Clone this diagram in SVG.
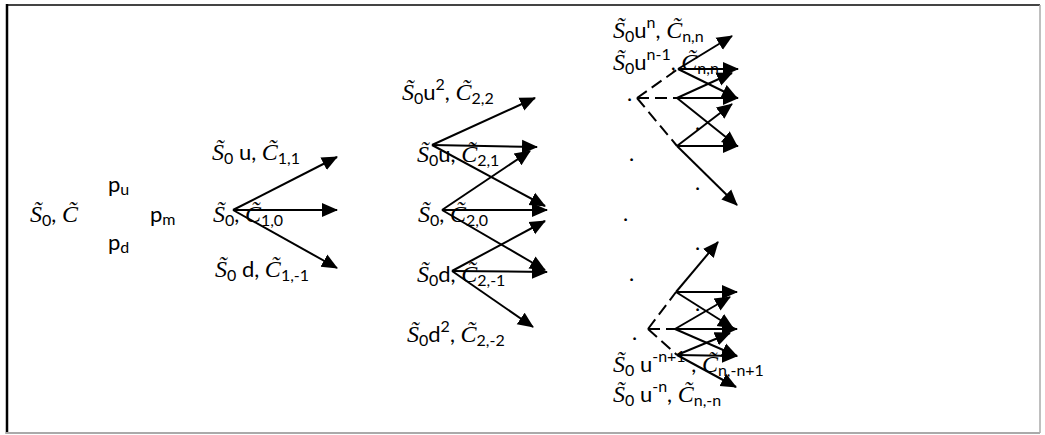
<svg xmlns="http://www.w3.org/2000/svg" width="1045" height="435" viewBox="0 0 1045 435">
<style>
.t{font-family:Lato,"Liberation Sans",sans-serif;font-size:22px;fill:#000}
.v{font-family:"Liberation Serif",serif;font-style:italic;font-size:24px}
.s{font-size:16px}
.c{stroke:#000;stroke-width:2;fill:none}
.a{marker-end:url(#ah)}
.d{stroke-dasharray:12 6}
</style>
<defs>
<marker id="ah" markerUnits="userSpaceOnUse" markerWidth="16" markerHeight="16" viewBox="0 0 16 16" refX="15" refY="8" orient="auto">
<path d="M0,1 L16,8 L0,15 Z" fill="#000"/>
</marker>
</defs>
<rect width="1045" height="435" fill="#fff"/>
<g id="frame">
<line x1="6" y1="5" x2="1040" y2="5" stroke="#444" stroke-width="2"/>
<line x1="7" y1="4" x2="7" y2="434" stroke="#000" stroke-width="2.5"/>
<line x1="6" y1="433" x2="1040" y2="433" stroke="#aaa" stroke-width="2"/>
<line x1="1040" y1="5" x2="1040" y2="433" stroke="#aaa" stroke-width="1.5"/>
</g>
<g id="connectors">
<g class="c a">
<line x1="233" y1="210" x2="337" y2="157"/>
<line x1="233" y1="210" x2="337" y2="210"/>
<line x1="233" y1="210" x2="337" y2="268"/>
<line x1="432" y1="145" x2="535" y2="98"/>
<line x1="432" y1="145" x2="537" y2="147"/>
<line x1="432" y1="145" x2="545" y2="206"/>
<line x1="442" y1="210" x2="530" y2="151"/>
<line x1="442" y1="210" x2="547" y2="210"/>
<line x1="442" y1="210" x2="545" y2="270"/>
<line x1="452" y1="271" x2="545" y2="221"/>
<line x1="452" y1="271" x2="547" y2="272"/>
<line x1="452" y1="271" x2="533" y2="327"/>
<line x1="678" y1="69" x2="732" y2="36"/>
<line x1="678" y1="69" x2="738" y2="69"/>
<line x1="678" y1="69" x2="737" y2="98"/>
<line x1="677" y1="98" x2="732" y2="73"/>
<line x1="677" y1="98" x2="738" y2="98"/>
<line x1="677" y1="98" x2="737" y2="146"/>
<line x1="677" y1="146" x2="732" y2="104"/>
<line x1="677" y1="146" x2="738" y2="146"/>
<line x1="677" y1="146" x2="737" y2="205"/>
<line x1="676" y1="292" x2="718" y2="242"/>
<line x1="676" y1="292" x2="737" y2="292"/>
<line x1="676" y1="292" x2="733" y2="328"/>
<line x1="675" y1="329" x2="730" y2="297"/>
<line x1="675" y1="329" x2="737" y2="329"/>
<line x1="675" y1="329" x2="737" y2="356"/>
<line x1="677" y1="355" x2="730" y2="333"/>
<line x1="677" y1="355" x2="737" y2="356"/>
<line x1="677" y1="355" x2="736" y2="387"/>
</g>
<g class="c d">
<line x1="637" y1="98" x2="678" y2="69"/>
<line x1="637" y1="98" x2="677" y2="98"/>
<line x1="637" y1="98" x2="677" y2="146"/>
<line x1="648" y1="329" x2="676" y2="292"/>
<line x1="648" y1="329" x2="675" y2="329"/>
<line x1="648" y1="329" x2="677" y2="355"/>
</g>
</g>
<g id="root"><text class="t" x="30" y="222"><tspan class="v">S̃</tspan><tspan class="s" dy="4">0</tspan><tspan dy="-4">, </tspan><tspan class="v">C̃</tspan></text></g>
<g id="prob-u"><text class="t" x="108" y="192">p<tspan class="s" dy="3">u</tspan></text></g>
<g id="prob-m"><text class="t" x="150" y="222">p<tspan class="s" dy="3">m</tspan></text></g>
<g id="prob-d"><text class="t" x="108" y="250">p<tspan class="s" dy="3">d</tspan></text></g>
<g id="n11"><text class="t" x="212" y="160"><tspan class="v">S̃</tspan><tspan class="s" dy="4">0</tspan><tspan dy="-4"> u, </tspan><tspan class="v">C̃</tspan><tspan class="s" dy="4">1,1</tspan></text></g>
<g id="n10"><text class="t" x="213" y="222"><tspan class="v">S̃</tspan><tspan class="s" dy="4">0</tspan><tspan dy="-4">, </tspan><tspan class="v">C̃</tspan><tspan class="s" dy="4">1,0</tspan></text></g>
<g id="n1m1"><text class="t" x="215" y="277"><tspan class="v">S̃</tspan><tspan class="s" dy="4">0</tspan><tspan dy="-4"> d, </tspan><tspan class="v">C̃</tspan><tspan class="s" dy="4">1,-1</tspan></text></g>
<g id="n22"><text class="t" x="402" y="100"><tspan class="v">S̃</tspan><tspan class="s" dy="4">0</tspan><tspan dy="-4">u</tspan><tspan class="s" dy="-10">2</tspan><tspan dy="10">, </tspan><tspan class="v">C̃</tspan><tspan class="s" dy="4">2,2</tspan></text></g>
<g id="n21"><text class="t" x="417" y="162"><tspan class="v">S̃</tspan><tspan class="s" dy="4">0</tspan><tspan dy="-4">u, </tspan><tspan class="v">C̃</tspan><tspan class="s" dy="4">2,1</tspan></text></g>
<g id="n20"><text class="t" x="418" y="222"><tspan class="v">S̃</tspan><tspan class="s" dy="4">0</tspan><tspan dy="-4">, </tspan><tspan class="v">C̃</tspan><tspan class="s" dy="4">2,0</tspan></text></g>
<g id="n2m1"><text class="t" x="417" y="282"><tspan class="v">S̃</tspan><tspan class="s" dy="4">0</tspan><tspan dy="-4">d, </tspan><tspan class="v">C̃</tspan><tspan class="s" dy="4">2,-1</tspan></text></g>
<g id="n2m2"><text class="t" x="407" y="342"><tspan class="v">S̃</tspan><tspan class="s" dy="4">0</tspan><tspan dy="-4">d</tspan><tspan class="s" dy="-10">2</tspan><tspan dy="10">, </tspan><tspan class="v">C̃</tspan><tspan class="s" dy="4">2,-2</tspan></text></g>
<g id="nnn"><text class="t" x="613" y="38"><tspan class="v">S̃</tspan><tspan class="s" dy="4">0</tspan><tspan dy="-4">u</tspan><tspan class="s" dy="-10">n</tspan><tspan dy="10">, </tspan><tspan class="v">C̃</tspan><tspan class="s" dy="4">n,n</tspan></text></g>
<g id="nnn1"><text class="t" x="613" y="70"><tspan class="v">S̃</tspan><tspan class="s" dy="4">0</tspan><tspan dy="-4">u</tspan><tspan class="s" dy="-10">n-1</tspan><tspan dy="10">, </tspan><tspan class="v">C̃</tspan><tspan class="s" dy="4">n,n</tspan></text></g>
<g id="nnmn1"><text class="t" x="613" y="372"><tspan class="v">S̃</tspan><tspan class="s" dy="4">0</tspan><tspan dy="-4"> u</tspan><tspan class="s" dy="-10">-n+1</tspan><tspan dy="10"> , </tspan><tspan class="v">C̃</tspan><tspan class="s" dy="4">n,-n+1</tspan></text></g>
<g id="nnmn"><text class="t" x="613" y="402"><tspan class="v">S̃</tspan><tspan class="s" dy="4">0</tspan><tspan dy="-4"> u</tspan><tspan class="s" dy="-10">-n</tspan><tspan dy="10">, </tspan><tspan class="v">C̃</tspan><tspan class="s" dy="4">n,-n</tspan></text></g>
<g id="dots" class="t">
<text x="627" y="101">.</text>
<text x="629" y="161">.</text>
<text x="695" y="130">.</text>
<text x="695" y="190">.</text>
<text x="623" y="221">.</text>
<text x="695" y="250">.</text>
<text x="629" y="281">.</text>
<text x="695" y="311">.</text>
<text x="632" y="340">.</text>
</g>
</svg>
